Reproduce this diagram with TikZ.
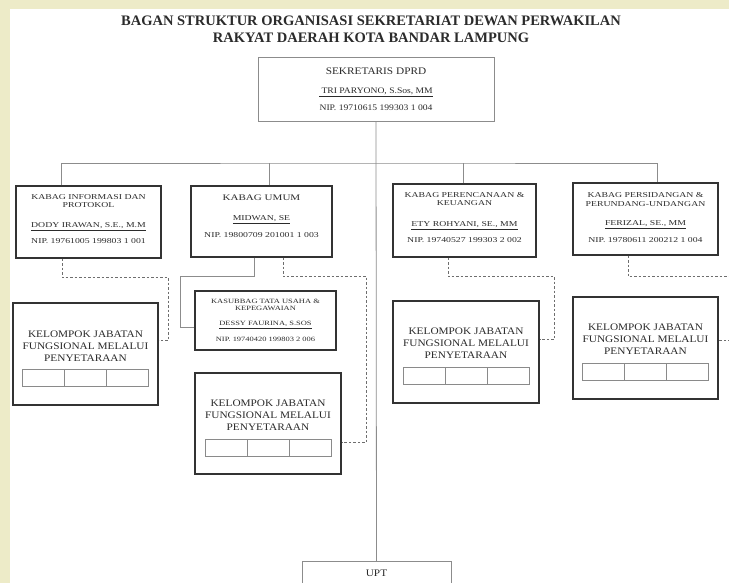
\documentclass[tikz,border=0pt]{standalone}
\usepackage{fontspec}
\setmainfont{Liberation Serif}
\newfontfamily\kotak[FakeStretch=1.3]{Liberation Serif}
\newfontfamily\lebar[FakeStretch=1.13]{Liberation Serif}
\usetikzlibrary{calc}
\definecolor{ink}{HTML}{2B2B2B}
\definecolor{boxline}{HTML}{333333}
\definecolor{thinline}{HTML}{8C8C8C}
\definecolor{dashline}{HTML}{6E6E6E}
\definecolor{cellline}{HTML}{8A8A8A}
\definecolor{margin}{HTML}{EDEBC8}
\begin{document}
\begin{tikzpicture}[x=1pt,y=-1pt,
	every node/.style={align=center,text=ink,inner sep=0pt},
	judul/.style={font=\fontsize{14.5}{17}\selectfont\bfseries},
	pimpinan/.style={draw=thinline,line width=0.8pt,minimum width=236,minimum height=64,
		font=\lebar\fontsize{8.5}{9}\selectfont},
	kabag/.style={draw=boxline,line width=1.1pt,minimum width=145,minimum height=72,
		text depth=6pt,font=\kotak\fontsize{7.5}{8.5}\selectfont},
	kasubbag/.style={draw=boxline,line width=1.1pt,minimum width=141,minimum height=59,
		text depth=-9pt,font=\kotak\fontsize{6.5}{7}\selectfont},
	kelompok/.style={draw=boxline,line width=1.1pt,minimum width=145,minimum height=102,
		font=\lebar\fontsize{10}{12}\selectfont},
	garis/.style={draw=thinline,line width=0.8pt},
	putus/.style={draw=dashline,line width=0.9pt,dash pattern=on 2.5pt off 2pt},
	sel/.style={draw=cellline,line width=0.8pt}]
\useasboundingbox (0,0) rectangle (729,583);
\clip (0,0) rectangle (729,583);
\fill[margin] (0,0) rectangle (729,583);
\fill[white] (10,9) rectangle (729,583);

\node[judul] (judul) at (371,29.5) {BAGAN STRUKTUR ORGANISASI SEKRETARIAT DEWAN PERWAKILAN\\
	RAKYAT DAERAH KOTA BANDAR LAMPUNG};

\node[pimpinan] (sekretaris) at (376,89) {{\fontsize{10}{11}\selectfont SEKRETARIS DPRD}\\[10pt]
	\underline{\ TRI PARYONO, S.Sos, MM}\\[8pt]
	NIP. 19710615 199303 1 004};

% kepala bagian
\node[kabag] (informasi) at (88.5,222) {KABAG INFORMASI DAN\\PROTOKOL\\[11pt]
	\underline{DODY IRAWAN, S.E., M.M}\\[8pt]
	NIP. 19761005 199803 1 001};
\node[kabag,minimum width=141,minimum height=71,text depth=10pt] (umum) at (261.5,221.5) {{\fontsize{8.5}{10}\selectfont KABAG UMUM}\\[11pt]
	\underline{MIDWAN, SE}\\[9pt]
	NIP. 19800709 201001 1 003};
\node[kabag,minimum width=143,minimum height=73] (perencanaan) at (464.5,220.5) {KABAG PERENCANAAN \&\\KEUANGAN\\[12pt]
	\underline{ETY ROHYANI, SE., MM}\\[8pt]
	NIP. 19740527 199303 2 002};
\node[kabag,text depth=3pt] (persidangan) at (645.5,219) {KABAG PERSIDANGAN \&\\PERUNDANG-UNDANGAN\\[11pt]
	\underline{FERIZAL, SE., MM}\\[8pt]
	NIP. 19780611 200212 1 004};

\node[kasubbag] (tatausaha) at (265.5,320.5) {KASUBBAG TATA USAHA \&\\KEPEGAWAIAN\\[8pt]
	\underline{DESSY FAURINA, S.SOS}\\[8pt]
	NIP. 19740420 199803 2 006};

% kelompok jabatan fungsional
\node[kelompok] (kel1) at (85.5,354) {KELOMPOK JABATAN\\FUNGSIONAL MELALUI\\PENYETARAAN\\[4pt]\mbox{}};
\node[kelompok,minimum width=146,minimum height=101] (kel2) at (268,423.5) {KELOMPOK JABATAN\\FUNGSIONAL MELALUI\\PENYETARAAN\\[4pt]\mbox{}};
\node[kelompok,minimum width=146] (kel3) at (466,352) {KELOMPOK JABATAN\\FUNGSIONAL MELALUI\\PENYETARAAN\\[6pt]\mbox{}};
\node[kelompok] (kel4) at (645.5,348) {KELOMPOK JABATAN\\FUNGSIONAL MELALUI\\PENYETARAAN\\[6pt]\mbox{}};
\foreach \k in {kel1,kel2,kel3,kel4}
	\foreach \i in {0,1,2}
		\draw[sel] ($(\k.center)+(-63+42*\i,15.5)$) rectangle ++(42,17);

\node[pimpinan,anchor=north,minimum width=149,minimum height=24,
	font=\lebar\fontsize{10}{11}\selectfont] (upt) at (376.5,561) {UPT};

% garis komando
\coordinate (bus) at (376,163);
\draw[garis] (sekretaris.south) -- (upt.north);
\draw[garis] ([xshift=-27.5pt]informasi.north) |- (bus) -| ([xshift=11.5pt]persidangan.north);
\draw[garis] ([xshift=7.5pt]umum.north) -- ([xshift=7.5pt]umum.north |- bus);
\draw[garis] ([xshift=-1.5pt]perencanaan.north) -- ([xshift=-1.5pt]perencanaan.north |- bus);
\draw[garis] ([xshift=-7.5pt]umum.south) -- ++(0,19) -| ([xshift=-14pt,yshift=-7pt]tatausaha.west)
	-- ([yshift=-7pt]tatausaha.west);

% garis koordinasi
\draw[putus] ([xshift=-26.5pt]informasi.south) -- ++(0,19) -| ([xshift=10pt,yshift=14pt]kel1.east)
	-- ([yshift=14pt]kel1.east);
\draw[putus] ([xshift=21.5pt]umum.south) -- ++(0,19) -| ([xshift=25pt,yshift=-18.5pt]kel2.east)
	-- ([yshift=-18.5pt]kel2.east);
\draw[putus] ([xshift=-16.5pt]perencanaan.south) -- ++(0,19) -| ([xshift=15pt,yshift=13pt]kel3.east)
	-- ([yshift=13pt]kel3.east);
\draw[putus] ([xshift=-17.5pt]persidangan.south) -- ++(0,21) -| ([xshift=22pt,yshift=8pt]kel4.east)
	-- ([yshift=8pt]kel4.east);
\end{tikzpicture}
\end{document}
